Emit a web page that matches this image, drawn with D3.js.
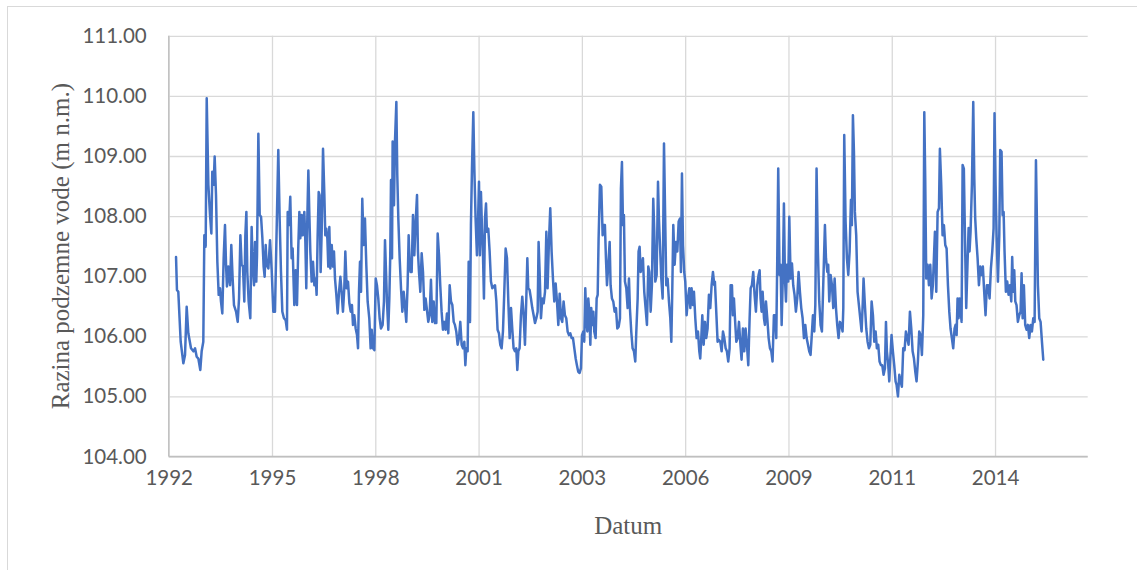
<!DOCTYPE html>
<html><head><meta charset="utf-8">
<script src="https://cdn.jsdelivr.net/npm/d3@7"></script>
<style>html,body{margin:0;padding:0;background:#fff;}svg{display:block;}</style>
</head><body>
<svg id="chart" width="1137" height="570"></svg>
<script>
// Excel serial dates (days since 1899-12-30)
const dates = [
33971,33980,33993,34016,34042,34058,34074,34090,34116,34139,
34155,34171,34187,34206,34219,34235,34245,34258,34268,34284,
34300,34313,34322,34335,34345,34358,34371,34384,34397,34406,
34419,34432,34445,34455,34464,34477,34494,34506,34519,34532,
34552,34568,34581,34594,34606,34619,34632,34642,34652,34661,
34674,34690,34703,34713,34726,34736,34748,34755,34768,34781,
34794,34807,34819,34829,34839,34848,34865,34881,34897,34913,
34929,34942,34961,34974,34987,35000,35016,35032,35045,35052,
35065,35077,35090,35100,35110,35116,35129,35142,35155,35165,
35174,35187,35197,35213,35223,35232,35242,35252,35261,35271,
35284,35297,35310,35323,35332,35342,35352,35361,35371,35381,
35394,35407,35416,35426,35436,35445,35455,35465,35478,35491,
35500,35510,35523,35536,35549,35562,35574,35587,35600,35610,
35623,35636,35649,35662,35674,35684,35697,35710,35723,35733,
35742,35752,35762,35774,35787,35800,35813,35826,35842,35855,
35865,35878,35891,35904,35916,35929,35942,35955,35971,35984,
35994,36004,36013,36026,36036,36045,36052,36062,36068,36081,
36091,36104,36113,36123,36136,36149,36162,36175,36187,36200,
36213,36223,36233,36242,36252,36265,36278,36291,36304,36313,
36323,36336,36349,36362,36375,36387,36400,36413,36426,36439,
36452,36465,36478,36491,36504,36517,36529,36542,36555,36568,
36581,36594,36607,36620,36633,36646,36659,36671,36684,36697,
36710,36723,36736,36749,36762,36772,36781,36794,36804,36817,
36826,36836,36849,36859,36871,36884,36894,36904,36913,36923,
36933,36942,36952,36962,36972,36981,36994,37007,37020,37033,
37046,
37059,37072,37084,37097,37110,37123,37136,37149,37162,37175,
37188,37201,37214,37226,37239,37252,37265,37275,37285,37297,
37310,37323,37336,37349,37362,37372,37381,37394,37407,37420,
37433,37446,37459,37472,37481,37491,37504,37517,37530,37543,
37556,37568,37581,37594,37607,37620,37633,37646,37659,37672,
37685,37698,37710,37723,37736,37749,37762,37775,37788,37801,
37814,37827,37840,37852,37865,37878,37891,37901,37914,37923,
37933,37943,37953,37962,37972,37982,37991,38001,38011,38020,
38033,38043,38053,38062,38075,38088,38101,38114,
38123,38133,38143,38156,38169,38178,38191,38204,38217,38230,
38243,38256,38269,38278,38288,38298,38307,38317,38330,38343,
38356,38365,38378,38391,38404,38417,38427,38440,38449,38459,
38469,38478,38491,38504,38517,38530,38543,38553,38566,38578,
38591,38601,38611,38624,38637,38646,38656,38669,38682,38695,
38708,38717,38730,38743,38756,38766,38775,38785,38798,38811,
38824,38837,38850,38859,38869,38879,38891,38901,38914,38927,
38940,38950,38962,38975,38985,38998,39011,39024,39037,39046,
39056,39066,39079,39092,39104,39117,39130,39143,39156,39169,
39182,
39188,39201,39214,39227,39240,39253,39266,39279,39292,39304,
39317,39330,39340,39353,39362,39372,39382,39395,39408,39421,
39433,39446,39459,39472,39485,39498,39511,39524,39534,39546,
39559,39572,39585,39598,39611,39621,39630,39640,39650,39663,
39672,39682,39695,39708,39721,39734,39746,39759,39772,39782,
39792,39801,39814,39824,39834,39847,39856,39866,39876,39885,
39898,39908,39921,39934,39946,39959,39972,39985,39998,40011,
40024,40037,40050,40063,40076,40089,40101,40114,40124,40137,
40150,40160,40172,40185,40198,40211,40224,
40253,40263,40276,40285,40295,40308,40321,40334,40347,40360,
40372,40385,40398,40411,40424,40431,40440,40453,40466,40479,
40492,40505,40514,40524,40534,40543,40556,40569,40582,40595,
40608,40621,40627,40640,40653,40666,40679,40692,40705,40718,
40731,40744,40756,40769,40782,40795,40808,40821,40834,40844,
40853,40866,40876,40886,40898,40911,40924,40937,40947,40960,
40973,40986,40998,41011,41024,41037,41050,41063,41076,41089,
41102,41115,41128,41140,41153,41166,41179,41192,41205,41215,
41224,41234,41247,41260,41273,41286,41298,
41318,41331,41344,41357,41366,41379,41392,41405,41418,41431,
41444,41457,41469,41482,41495,41508,41518,41528,41537,41547,
41557,41566,41576,41586,41598,41611,41621,41634,41644,41653,
41663,41676,41689,41699,41708,41718,41731,41744,41757,41770,
41782,41795,41808,41821,41834,41847,41860,41873,41886,41895,
41905,41915,41928,41941,41950,41963,41973,41983,41992,42005,
42018,42031,42044,42057,42066,42076,42086,42096,42108,42121,
42134,42147,42157,42167,42179,42192,42205,42218,42231,42244,
42257,42270,42283,42296,42305,42315,42328,42341,42354,42367
];
// Groundwater level (m n.m.)
const levels = [
107.32,106.77,106.74,105.91,105.55,105.69,106.49,106.05,105.80,105.75,
105.80,105.66,105.63,105.44,105.75,105.91,107.68,107.49,109.96,108.52,
108.02,107.71,108.74,108.52,108.99,108.35,107.24,106.69,106.80,106.58,
106.38,107.30,107.85,107.19,106.83,107.16,106.85,107.52,106.96,106.52,
106.41,106.24,106.63,107.68,107.19,107.16,106.58,107.68,108.07,107.07,
106.58,106.30,107.82,107.19,106.85,107.57,106.91,107.35,109.37,108.02,
107.99,107.63,107.16,106.99,107.52,107.19,107.13,107.60,107.10,106.41,
106.41,107.52,109.10,107.96,107.07,106.41,106.30,106.27,106.11,108.07,
107.85,108.32,107.30,107.46,106.85,106.52,107.10,106.52,107.52,108.07,
107.63,108.02,107.68,108.07,107.57,106.80,107.96,108.76,108.07,107.41,
106.91,107.24,106.85,106.96,106.69,107.68,108.40,108.35,107.07,107.74,
109.12,108.35,107.68,107.79,107.63,107.16,107.82,107.13,107.52,107.16,
107.41,106.96,106.69,106.38,106.74,106.99,106.74,106.41,106.80,107.41,
106.80,106.91,106.55,106.41,106.52,106.19,106.35,106.13,106.02,105.80,
106.74,107.24,106.74,108.29,107.52,107.96,107.19,106.58,106.30,105.80,
106.11,105.80,105.77,106.96,106.85,106.63,106.30,106.13,106.19,106.58,
107.60,107.07,106.58,106.11,106.63,107.35,108.60,107.30,109.24,108.18,
109.26,109.90,108.68,107.96,107.30,106.80,106.41,106.74,106.52,106.24,
106.85,107.68,107.19,107.07,107.07,108.02,107.35,107.91,108.35,107.41,
107.07,106.74,107.38,107.07,106.44,106.63,106.44,106.24,106.35,106.94,
106.24,106.58,106.22,106.22,107.71,107.35,106.85,106.41,106.11,106.24,
106.11,106.38,106.05,106.85,106.58,106.52,106.24,106.19,106.08,105.86,
105.97,106.24,105.86,105.80,105.91,105.52,105.80,105.75,107.24,106.24,
107.85,108.79,109.73,108.79,107.96,107.35,107.85,108.57,107.35,108.40,
107.79,107.41,106.63,107.96,108.21,107.74,107.79,107.41,106.91,106.80,
106.83,
106.85,106.58,106.11,106.05,105.86,105.80,106.08,106.74,107.46,107.30,
106.58,105.97,106.47,106.13,105.80,105.75,105.80,105.44,105.75,105.80,
106.35,106.66,106.35,105.86,106.63,107.30,106.80,106.77,106.63,106.47,
106.35,106.22,106.30,106.41,107.57,107.07,106.30,106.63,106.55,106.74,
107.74,106.80,107.57,108.13,107.41,106.96,106.58,106.88,106.58,106.19,
106.71,106.30,106.24,106.58,106.35,106.30,106.08,106.02,106.05,105.97,
105.97,105.80,105.63,105.52,105.41,105.39,105.47,106.02,106.08,105.91,
106.80,106.30,106.08,106.63,106.41,105.86,106.47,106.19,106.41,106.08,
105.97,106.63,106.69,107.63,108.52,108.49,107.68,107.85,
107.85,107.30,106.85,107.19,107.57,106.85,106.63,106.58,106.41,106.47,
106.13,106.16,106.30,108.46,108.90,107.85,108.02,106.91,106.80,106.47,
106.96,106.47,106.08,105.80,105.75,105.58,106.08,106.63,107.41,107.49,
107.07,107.13,107.30,106.74,106.47,106.19,107.16,107.07,106.41,106.85,
108.29,107.74,106.91,107.02,108.57,107.96,107.52,106.96,106.63,109.21,
107.80,106.85,106.96,106.58,106.30,105.91,106.74,107.85,107.19,107.57,
107.41,107.91,107.96,107.07,108.71,107.52,107.07,106.91,106.35,106.63,
106.80,106.47,106.80,106.52,106.74,106.30,105.97,106.08,105.75,105.63,
105.97,106.35,105.86,106.24,105.97,106.13,106.69,106.47,106.85,107.07,
106.85,
106.91,106.41,105.91,105.94,105.91,105.75,106.08,105.97,105.80,105.75,
105.58,105.80,106.85,106.85,106.35,106.63,106.30,105.91,105.97,106.24,
105.91,105.61,106.13,105.75,106.13,105.86,105.52,106.30,106.80,106.85,
107.07,106.69,106.41,106.85,107.02,107.10,106.63,106.41,106.74,106.30,
106.19,106.58,106.30,105.97,105.80,105.75,105.58,106.35,106.35,105.97,
107.35,108.79,107.02,107.19,106.19,107.13,108.21,106.96,106.58,107.19,
106.91,107.99,106.96,107.21,106.85,106.69,106.41,106.63,107.07,106.74,
106.47,106.30,105.97,106.19,105.97,105.86,105.75,105.69,105.97,106.35,
106.08,106.52,108.79,107.41,106.58,106.19,106.08,
107.85,107.30,107.07,107.19,106.58,107.02,106.85,106.47,106.96,106.47,
106.19,105.97,106.24,106.19,106.08,106.47,109.35,107.91,107.30,107.02,
107.41,108.27,107.85,109.68,109.07,108.07,107.68,106.74,106.52,106.30,
106.08,106.63,106.96,106.52,106.13,105.91,105.80,105.86,106.58,106.35,
105.91,106.08,105.80,105.86,105.58,105.52,105.52,105.36,105.47,106.24,
105.75,105.52,105.25,105.63,106.02,105.75,105.52,105.25,105.19,105.00,
105.36,105.25,105.16,105.80,105.77,106.08,105.97,105.86,106.41,106.13,
105.75,105.63,105.41,105.25,105.58,106.08,106.02,105.69,106.35,109.73,
108.63,106.96,107.19,106.85,107.19,106.63,106.85,
107.74,106.74,108.07,108.13,109.12,108.52,107.68,107.85,107.52,107.46,
106.85,106.41,106.13,105.97,105.80,106.13,106.19,106.02,106.63,106.30,
106.63,106.47,106.24,108.85,108.79,107.41,106.47,107.24,107.80,107.41,
107.74,108.52,109.90,108.63,107.96,107.63,107.30,106.85,107.16,107.02,
107.16,106.74,106.35,106.85,106.85,106.63,107.13,107.41,107.80,109.71,
108.52,107.68,106.91,107.68,109.10,109.07,108.02,108.07,107.41,106.74,
106.91,106.69,106.85,106.58,107.32,106.74,107.10,106.58,106.52,106.24,
106.35,106.41,107.05,106.30,106.85,106.19,106.11,106.19,105.97,106.19,
106.08,106.30,106.24,108.93,107.96,106.85,106.30,106.24,105.91,105.61
];
const xTicks = [33900,34900,35900,36900,37900,38900,39900,40900,41900];
const yTicks = [104,105,106,107,108,109,110,111];
const xDomain = [33900, 42797];
const yDomain = [104, 111];
const yTitle = "Razina podzemne vode (m n.m.)";
const xTitle = "Datum";

const svg = d3.select("#chart");
const L = 168.7, R = 1087.7, T = 35.8, B = 456.5;
const x = d3.scaleLinear().domain(xDomain).range([L, R]);
const y = d3.scaleLinear().domain(yDomain).range([B, T]);
const serialYear = s => new Date(Date.UTC(1899,11,30) + s*864e5).getUTCFullYear();

// outer chart border
svg.append("rect").attr("x",7.5).attr("y",6.5).attr("width",1140).attr("height",580)
  .attr("fill","#fff").attr("stroke","#d9d9d9").attr("stroke-width",1);

// horizontal gridlines
const yAxis = d3.axisLeft(y).tickValues(yTicks).tickSize(-(R-L)).tickPadding(22)
  .tickFormat(d3.format(".2f"));
const gy = svg.append("g").attr("transform",`translate(${L},0)`).call(yAxis);
gy.select(".domain").remove();
gy.selectAll(".tick line").attr("stroke","#d9d9d9").attr("stroke-width",1.3);
gy.selectAll(".tick text").attr("fill","#595959").style("font-family","Lato, 'Open Sans', sans-serif").style("font-size","20.5px");

// vertical gridlines + x labels
const xAxis = d3.axisBottom(x).tickValues(xTicks).tickSize(-(B-T)).tickPadding(14)
  .tickFormat(d => serialYear(d));
const gx = svg.append("g").attr("transform",`translate(0,${B})`).call(xAxis);
gx.select(".domain").remove();
gx.selectAll(".tick line").attr("stroke","#d9d9d9").attr("stroke-width",1.3);
gx.selectAll(".tick text").attr("fill","#595959").style("font-family","Lato, 'Open Sans', sans-serif").style("font-size","20.5px");

// axis lines
svg.append("line").attr("x1",L).attr("x2",L).attr("y1",T).attr("y2",B).attr("stroke","#bfbfbf").attr("stroke-width",1.3);
svg.append("line").attr("x1",L).attr("x2",R).attr("y1",B).attr("y2",B).attr("stroke","#bfbfbf").attr("stroke-width",1.3);

// series line
const data = dates.map((d,i) => ({d, v: levels[i]}));
svg.append("path").datum(data)
  .attr("fill","none").attr("stroke","#4472c4").attr("stroke-width",2.5)
  .attr("stroke-linejoin","round").attr("stroke-linecap","round")
  .attr("d", d3.line().x(p => x(p.d)).y(p => y(p.v)));

// titles
svg.append("text").attr("transform",`translate(60,${(T+B)/2}) rotate(-90)`)
  .attr("text-anchor","middle").attr("dominant-baseline","central")
  .attr("fill","#595959").style("font-family","'Liberation Serif', 'Times New Roman', serif").style("font-size","25px")
  .text(yTitle);
svg.append("text").attr("x",(L+R)/2).attr("y",534).attr("text-anchor","middle")
  .attr("fill","#595959").style("font-family","'Liberation Serif', 'Times New Roman', serif").style("font-size","25px")
  .text(xTitle);
</script>
</body></html>
